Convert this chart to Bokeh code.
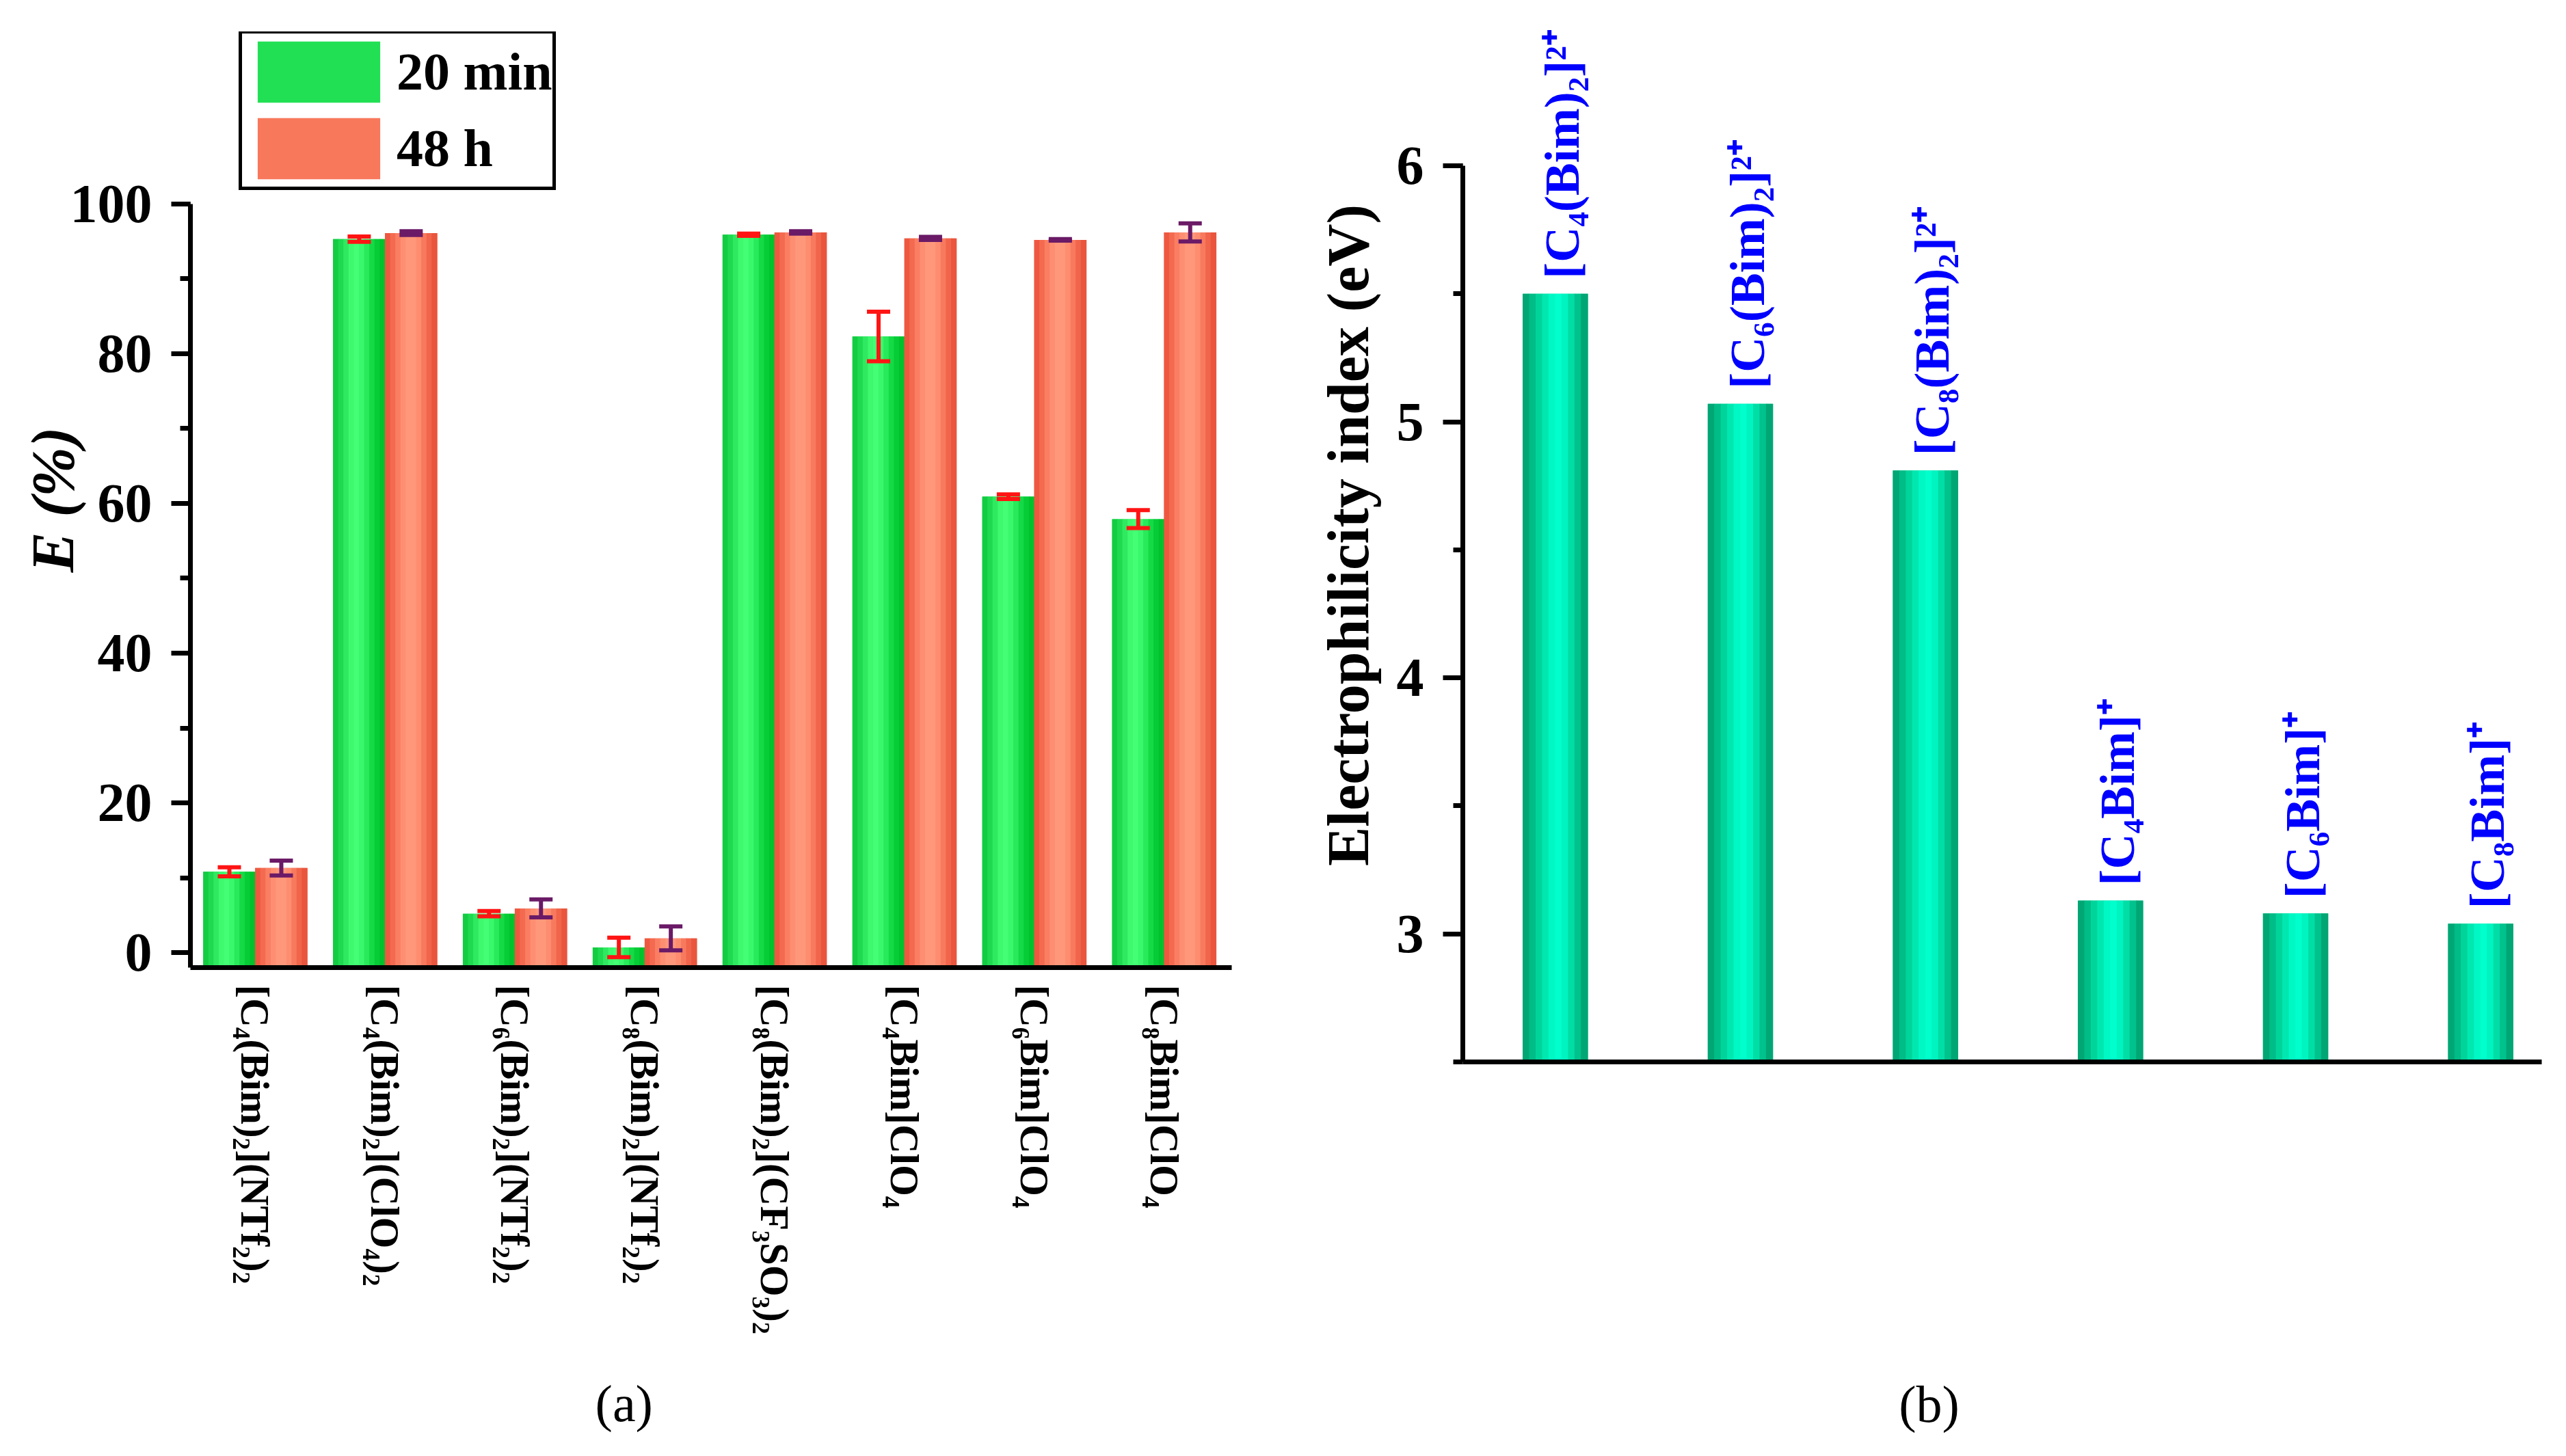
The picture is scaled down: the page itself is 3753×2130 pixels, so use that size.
import numpy as np
from bokeh.plotting import figure
from bokeh.layouts import row
from bokeh.models import (ColumnDataSource, Range1d, FixedTicker, SingleIntervalTicker,
                          Whisker, TeeHead, Legend, LegendItem, LinearAxis)
from bokeh.core.properties import value
from bokeh.embed import file_html
from bokeh.resources import INLINE

FONT = "Liberation Serif"

# ---------------- data: panel (a) ----------------
categories_a = ["[C₄(Bim)₂](NTf₂)₂", "[C₄(Bim)₂](ClO₄)₂", "[C₆(Bim)₂](NTf₂)₂",
                "[C₈(Bim)₂](NTf₂)₂", "[C₈(Bim)₂](CF₃SO₃)₂", "[C₄Bim]ClO₄",
                "[C₆Bim]ClO₄", "[C₈Bim]ClO₄"]
e_20min = [10.8, 95.3, 5.2, 0.7, 95.9, 82.3, 60.9, 57.9]
err_20min = [0.6, 0.35, 0.35, 1.3, 0.15, 3.3, 0.3, 1.2]
e_48h = [11.3, 96.1, 5.9, 1.9, 96.2, 95.4, 95.2, 96.2]
err_48h = [1.0, 0.25, 1.2, 1.6, 0.15, 0.2, 0.1, 1.2]
series_names = ["20 min", "48 h"]

# ---------------- data: panel (b) ----------------
cations_b = ["[C₄(Bim)₂]²⁺", "[C₆(Bim)₂]²⁺", "[C₈(Bim)₂]²⁺",
             "[C₄Bim]⁺", "[C₆Bim]⁺", "[C₈Bim]⁺"]
electrophilicity = [5.50, 5.07, 4.81, 3.13, 3.08, 3.04]

# panel captions and where they sit along each x axis
caption_a, caption_a_x = "(a)", 2.84
caption_b, caption_b_x = "(b)", 2.02

# ---------------- styles ----------------
green_strips = ["#12CC42", "#1FDA50", "#2FEA60", "#3EF86E", "#44FF75",
                "#3AF86C", "#28EA5A", "#14DA46", "#06CC36", "#00C22C"]
red_strips = ["#EE5840", "#F46A50", "#FA7E62", "#FE8E72", "#FF977A",
              "#FF987B", "#FE8D70", "#F87A5E", "#F0654B", "#E9553D"]
teal_strips = ["#00A674", "#00BC86", "#00D49A", "#00E8B0", "#00F8C4",
               "#00FFCC", "#00F4C0", "#00DEA6", "#00C28C", "#00A674"]
GREEN_BASE = "#22E054"
RED_BASE = "#F8785C"
TEAL_BASE = "#00D8A4"
ERR_GREEN = "#FF1414"
ERR_RED = "#6A1A66"


def style_axis(ax):
    ax.axis_line_width = 7
    ax.axis_line_color = "black"
    ax.major_tick_line_width = 7
    ax.minor_tick_line_width = 7
    ax.major_tick_line_color = "black"
    ax.minor_tick_line_color = "black"
    ax.major_tick_in = 0
    ax.minor_tick_in = 0
    ax.major_label_text_font = FONT
    ax.major_label_text_font_style = "bold"
    ax.major_label_text_color = "black"
    ax.axis_label_text_font = FONT
    ax.axis_label_text_font_style = "bold"
    ax.axis_label_text_color = "black"


def style_common(p):
    p.outline_line_color = None
    p.xgrid.visible = False
    p.ygrid.visible = False
    p.background_fill_color = "white"
    p.border_fill_color = "white"
    for ax in p.axis:
        style_axis(ax)


def caption_axis(ax, text, xpos, standoff):
    ax.ticker = FixedTicker(ticks=[xpos])
    ax.major_label_overrides = {xpos: text}
    ax.major_label_orientation = "horizontal"
    ax.major_tick_out = 0
    ax.minor_tick_out = 0
    ax.major_tick_line_color = None
    ax.minor_tick_line_color = None
    ax.major_label_standoff = standoff
    ax.major_label_text_font = FONT
    ax.major_label_text_font_style = "normal"
    ax.major_label_text_font_size = "76px"
    ax.major_label_text_color = "black"


def gradient_bars(p, xs, tops, bottom, width, colors):
    n = len(colors)
    xs = np.asarray(xs, dtype=float)
    for j, col in enumerate(colors):
        off = -width / 2 + (j + 0.5) * width / n
        src = ColumnDataSource(dict(x=xs + off, top=list(tops)))
        p.vbar(x="x", top="top", bottom=bottom, width=width / n * 1.1,
               fill_color=col, line_color=None, source=src)


# ================= panel (a) =================
idx_a = np.arange(len(categories_a), dtype=float)
ya_start, ya_end = -2.0, 123.0
pa = figure(width=1900, height=2114, title=None,
            x_range=Range1d(-0.5, 7.52), y_range=Range1d(ya_start, ya_end),
            output_backend="svg", toolbar_location=None,
            min_border_left=278, min_border_right=99,
            min_border_top=46, min_border_bottom=699)
pa.frame_align = False
style_common(pa)

bw = 0.4
x_green = idx_a - bw / 2
x_red = idx_a + bw / 2
base_g = pa.vbar(x=x_green, top=e_20min, bottom=ya_start, width=bw,
                 fill_color=GREEN_BASE, line_color=None)
base_r = pa.vbar(x=x_red, top=e_48h, bottom=ya_start, width=bw,
                 fill_color=RED_BASE, line_color=None)
gradient_bars(pa, x_green, e_20min, ya_start, bw, green_strips)
gradient_bars(pa, x_red, e_48h, ya_start, bw, red_strips)

for xs, vals, errs, col in [(x_green, e_20min, err_20min, ERR_GREEN),
                            (x_red, e_48h, err_48h, ERR_RED)]:
    v = np.asarray(vals)
    e = np.asarray(errs)
    src = ColumnDataSource(dict(x=xs, upper=v + e, lower=v - e))
    wk = Whisker(source=src, base="x", upper="upper", lower="lower",
                 dimension="height", line_color=col, line_width=6, level="overlay",
                 upper_head=TeeHead(size=34, line_color=col, line_width=6),
                 lower_head=TeeHead(size=34, line_color=col, line_width=6))
    pa.add_layout(wk)

xa = pa.xaxis[0]
xa.ticker = FixedTicker(ticks=list(range(len(categories_a))))
xa.major_label_overrides = {i: c for i, c in enumerate(categories_a)}
xa.major_label_orientation = "vertical"
xa.major_label_text_font_size = "59px"
xa.major_label_standoff = 25
xa.major_tick_out = 0
xa.major_tick_line_color = None
xa.minor_tick_line_color = None

# caption "(a)" as a second, line-less axis below the category axis
xa_cap = LinearAxis(axis_line_color=None)
caption_axis(xa_cap, caption_a, caption_a_x, 56)
pa.add_layout(xa_cap, "below")

yaa = pa.yaxis[0]
yaa.ticker = SingleIntervalTicker(interval=20, num_minor_ticks=2)
yaa.bounds = (ya_start, 100)
yaa.major_label_text_font_size = "80px"
yaa.major_tick_out = 28
yaa.minor_tick_out = 15
yaa.major_label_standoff = 28
yaa.axis_label = "E (%)"
yaa.axis_label_text_font_style = "bold italic"
yaa.axis_label_text_font_size = "88px"
yaa.axis_label_standoff = -26

legend = Legend(items=[LegendItem(label=series_names[0], renderers=[base_g]),
                       LegendItem(label=series_names[1], renderers=[base_r])],
                location=(71, 1137), margin=0, padding=0, spacing=-12,
                glyph_width=224, glyph_height=112, label_standoff=2,
                label_text_font=FONT, label_text_font_style="bold",
                label_text_font_size="78px", label_text_line_height=0.9,
                label_text_color="black",
                border_line_color="black", border_line_width=5, border_line_alpha=1.0,
                background_fill_color="white", background_fill_alpha=1.0)
pa.add_layout(legend)

# ================= panel (b) =================
idx_b = np.arange(len(cations_b), dtype=float)
yb_start, yb_end = 2.5, 6.614
pb = figure(width=1837, height=2114, title=None,
            x_range=Range1d(-0.5, 5.33), y_range=Range1d(yb_start, yb_end),
            output_backend="svg", toolbar_location=None,
            min_border_left=239, min_border_right=20,
            min_border_top=12, min_border_bottom=561)
pb.frame_align = False
style_common(pb)

bwb = 0.35
pb.vbar(x=idx_b, top=electrophilicity, bottom=yb_start, width=bwb,
        fill_color=TEAL_BASE, line_color=None)
gradient_bars(pb, idx_b, electrophilicity, yb_start, bwb, teal_strips)

lab_src = ColumnDataSource(dict(x=idx_b, y=electrophilicity, text=cations_b))
pb.text(x="x", y="y", text="text", source=lab_src, angle=np.pi / 2,
        text_align="left", text_baseline="middle", x_offset=10, y_offset=-22,
        text_color="#0000FF", text_font=value(FONT), text_font_style="bold",
        text_font_size="72px")

xb = pb.xaxis[0]
caption_axis(xb, caption_b, caption_b_x, 458)

yb = pb.yaxis[0]
yb.ticker = SingleIntervalTicker(interval=1, num_minor_ticks=2)
yb.bounds = (yb_start, 6)
yb.major_label_text_font_size = "80px"
yb.major_tick_out = 29
yb.minor_tick_out = 14
yb.major_label_standoff = 28
yb.axis_label = "Electrophilicity index (eV)"
yb.axis_label_text_font_size = "86px"
yb.axis_label_standoff = 20

layout = row(pa, pb, spacing=0)
open("out.html", "w").write(file_html(layout, INLINE))
